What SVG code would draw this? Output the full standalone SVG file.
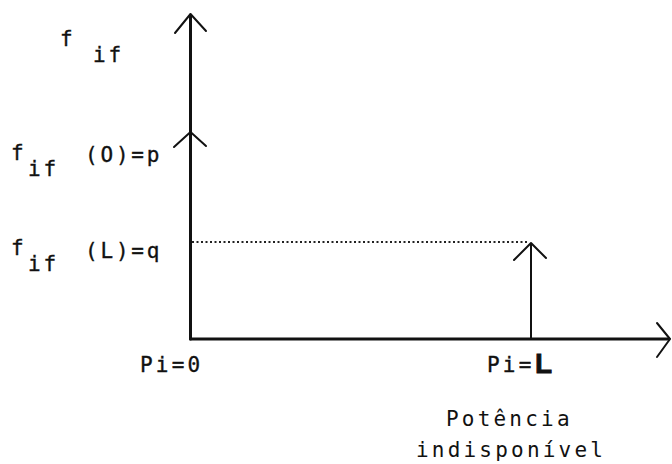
<svg xmlns="http://www.w3.org/2000/svg" width="672" height="464" viewBox="0 0 672 464">
<style>
text{font-family:"DejaVu Sans Mono","Liberation Mono",monospace;font-size:21px;fill:#111;stroke:#111;stroke-width:0.35;letter-spacing:2.8px}
.big{font-size:21px;letter-spacing:3.2px}
.lt{stroke-width:0}
.ax{stroke:#111;stroke-width:3;fill:none;stroke-linecap:round;stroke-linejoin:round}
.thin{stroke:#111;stroke-width:2;fill:none;stroke-linecap:round;stroke-linejoin:round}
.dot{stroke:#222;stroke-width:2;stroke-dasharray:2 2.5;fill:none}
.bl{font-family:"Liberation Sans",Arial,sans-serif;font-weight:bold;font-size:28px;letter-spacing:0;stroke-width:0.8}
</style>
<rect width="672" height="464" fill="#fff"/>
<g id="connectors">
<path class="ax" d="M190.5 339 V15"/>
<path class="thin" d="M175 33 L190.5 14 L206 31"/>
<path class="thin" d="M174 147 L190.5 132 L206 146"/>
<path class="ax" d="M190.5 339 H669"/>
<path class="thin" d="M657 323 L670 339 L657 357"/>
<path class="dot" d="M192 242 H527"/>
<path class="thin" d="M531 339 V244"/>
<path class="thin" d="M514 260 L531 243 L546 258"/>
</g>
<g id="label-fif-axis">
<text x="60" y="46">f</text>
<text x="93" y="62">if</text>
</g>
<g id="label-fif-0">
<text x="11" y="160">f</text>
<text x="28" y="176">if</text>
<text x="85" y="162">(O)=p</text>
</g>
<g id="label-fif-L">
<text x="11" y="255">f</text>
<text x="28" y="271">if</text>
<text x="85" y="258">(L)=q</text>
</g>
<g id="label-pi0">
<text class="big" x="140" y="372">Pi=0</text>
</g>
<g id="label-piL">
<text class="big" x="487" y="372">Pi=</text>
<text class="bl" x="535" y="373">L</text>
</g>
<g id="label-potencia">
<text class="big lt" x="446" y="426">Potência</text>
<text class="big lt" x="416" y="457">indisponível</text>
</g>
</svg>
